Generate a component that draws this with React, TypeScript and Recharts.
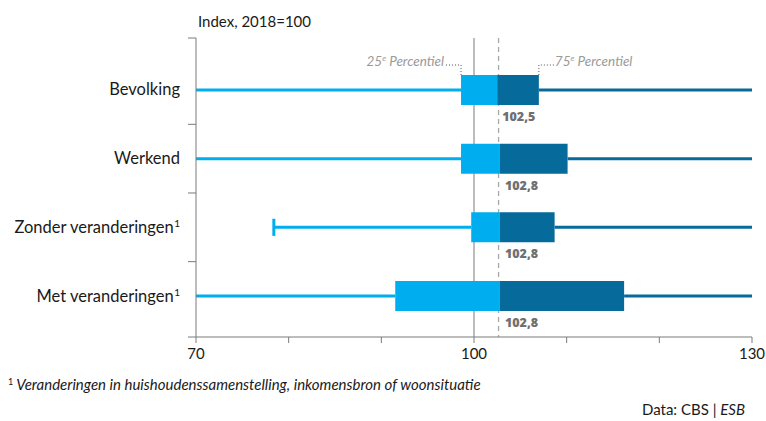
import React from 'react';
import {
  ComposedChart,
  XAxis,
  YAxis,
  ReferenceLine,
  ReferenceArea,
  Scatter,
  CartesianGrid,
} from 'recharts';

const categories = ['Bevolking', 'Werkend', 'Zonder veranderingen¹', 'Met veranderingen¹'];
const whiskerLow = [62, 62, 78.4, 62];
const q1 = [98.6, 98.6, 99.7, 91.5];
const median = [102.5, 102.8, 102.8, 102.8];
const q3 = [107.0, 110.1, 108.7, 116.2];
const whiskerHigh = [138, 138, 138, 138];
const hasCap = [false, false, true, false];
const medianLabels = ['102,5', '102,8', '102,8', '102,8'];
const xTicks = [70, 80, 90, 100, 110, 120, 130];
const xLabelTicks = [70, 100, 130];
const indexBase = 100;
const overallMedian = 102.65;

const LIGHT = '#00AEEF';
const DARK = '#066A9B';
const AXIS = '#7a7a7a';
const FONT = 'Lato, "Open Sans", sans-serif';

const Y_MIN = -0.757;
const Y_MAX = 3.597;
const BOX_HALF = 0.218;
const yTicks = [Y_MIN, 0, 0.5, 1, 1.5, 2, 2.5, 3, Y_MAX];

const medianPoints = categories.map((c, i) => ({ x: median[i], y: i, label: medianLabels[i] }));
const annotationPoints = [
  { x: q1[0], y: 0, side: 'left', pct: '25' },
  { x: q3[0], y: 0, side: 'right', pct: '75' },
];

const YTick = (props: any) => {
  const { x, y, payload } = props;
  const v = payload.value;
  if (Number.isInteger(v)) {
    const label: string = categories[v];
    const sup = label.endsWith('¹');
    const main = sup ? label.slice(0, -1) : label;
    return (
      <text x={x - 16} y={y} dy={5.5} textAnchor="end" fontFamily={FONT} fontSize={16.5} fill="#1a1a1a">
        <tspan>{main}</tspan>
        {sup ? (
          <tspan fontSize={10} dy={-6} dx={0.5}>
            1
          </tspan>
        ) : null}
      </text>
    );
  }
  return <line x1={x - 8} x2={x} y1={y} y2={y} stroke={AXIS} strokeWidth={1} />;
};

const XTick = (props: any) => {
  const { x, y, payload } = props;
  if (!xLabelTicks.includes(payload.value)) return <g />;
  return (
    <text x={x} y={y} dy={14} textAnchor="middle" fontFamily={FONT} fontSize={15} fill="#1a1a1a">
      {payload.value}
    </text>
  );
};

const MedianLabel = (props: any) => {
  const { cx, cy, payload } = props;
  return (
    <text x={cx + 5} y={cy + 31} fontFamily='"Open Sans", sans-serif' fontWeight={800} fontSize={12.5} fill="#707070">
      {payload.label}
    </text>
  );
};

const Annotation = (props: any) => {
  const { cx, cy, payload } = props;
  const top = cy - 15;
  const lead = cy - 25;
  const left = payload.side === 'left';
  const endX = left ? cx - 16 : cx + 15;
  return (
    <g>
      <path
        d={`M${cx},${top} V${lead} H${endX}`}
        fill="none"
        stroke="#555"
        strokeWidth={1}
        strokeDasharray="1 2"
      />
      <text
        x={left ? endX - 1 : endX + 1}
        y={lead + 1}
        textAnchor={left ? 'end' : 'start'}
        fontFamily={FONT}
        fontStyle="italic"
        fontSize={13.5}
        fill="#9a9a9a"
      >
        <tspan>{payload.pct}</tspan>
        <tspan dy={-5} fontSize={8}>e</tspan>
        <tspan dy={5}> Percentiel</tspan>
      </text>
    </g>
  );
};

export default function App() {
  return (
    <div style={{ position: 'absolute', left: 0, top: 0, width: 766, height: 421, background: '#fff', fontFamily: FONT }}>
      <div style={{ position: 'absolute', left: 198, top: 12, fontSize: 15, lineHeight: '18px', color: '#1a1a1a' }}>
        Index, 2018=100
      </div>
      <ComposedChart
        width={766}
        height={421}
        margin={{ top: 38, right: 14, left: 0, bottom: 54 }}
      >
        <CartesianGrid horizontal={false} verticalValues={[indexBase]} stroke={AXIS} strokeWidth={1} />
        <CartesianGrid horizontal={false} verticalValues={[overallMedian]} stroke="#a8a8a8" strokeWidth={1.3} strokeDasharray="5 4" />
        <XAxis
          type="number"
          dataKey="x"
          domain={[70, 130]}
          ticks={xTicks}
          interval={0}
          allowDataOverflow
          tick={<XTick />}
          tickLine={{ stroke: AXIS }}
          tickSize={6}
          axisLine={{ stroke: AXIS }}
          height={30}
        />
        <XAxis
          xAxisId="top"
          orientation="top"
          type="number"
          domain={[70, 130]}
          tick={false}
          tickLine={false}
          axisLine={{ stroke: AXIS }}
          height={0}
        />
        <YAxis
          type="number"
          dataKey="y"
          domain={[Y_MIN, Y_MAX]}
          reversed
          ticks={yTicks}
          interval={0}
          allowDataOverflow
          tick={<YTick />}
          tickLine={false}
          tickSize={0}
          tickMargin={0}
          axisLine={{ stroke: AXIS }}
          width={196}
        />
        <YAxis
          yAxisId="right"
          orientation="right"
          type="number"
          domain={[Y_MIN, Y_MAX]}
          tick={false}
          tickLine={false}
          axisLine={{ stroke: AXIS }}
          width={0}
        />
        {categories.map((c, i) => (
          <ReferenceLine
            key={`wl${i}`}
            segment={[{ x: whiskerLow[i], y: i }, { x: q1[i], y: i }]}
            stroke={LIGHT}
            strokeWidth={3}
            ifOverflow="hidden"
          />
        ))}
        {categories.map((c, i) => (
          <ReferenceLine
            key={`wh${i}`}
            segment={[{ x: q3[i], y: i }, { x: whiskerHigh[i], y: i }]}
            stroke={DARK}
            strokeWidth={3}
            ifOverflow="hidden"
          />
        ))}
        {categories.map((c, i) =>
          hasCap[i] ? (
            <ReferenceLine
              key={`cap${i}`}
              segment={[{ x: whiskerLow[i], y: i - 0.125 }, { x: whiskerLow[i], y: i + 0.125 }]}
              stroke={LIGHT}
              strokeWidth={3}
            />
          ) : null
        )}
        {categories.map((c, i) => (
          <ReferenceArea
            key={`bl${i}`}
            x1={q1[i]}
            x2={median[i]}
            y1={i - BOX_HALF}
            y2={i + BOX_HALF}
            fill={LIGHT}
            fillOpacity={1}
            stroke="none"
          />
        ))}
        {categories.map((c, i) => (
          <ReferenceArea
            key={`bd${i}`}
            x1={median[i]}
            x2={q3[i]}
            y1={i - BOX_HALF}
            y2={i + BOX_HALF}
            fill={DARK}
            fillOpacity={1}
            stroke="none"
          />
        ))}
        <Scatter data={medianPoints} shape={<MedianLabel />} isAnimationActive={false} />
        <Scatter data={annotationPoints} shape={<Annotation />} isAnimationActive={false} />
      </ComposedChart>
      <div style={{ position: 'absolute', left: 8, top: 375, fontSize: 15, lineHeight: '18px', color: '#1a1a1a', fontStyle: 'italic', whiteSpace: 'nowrap' }}>
        <span style={{ fontStyle: 'normal', fontSize: 9, position: 'relative', top: -5 }}>1</span>{' '}
        Veranderingen in huishoudenssamenstelling, inkomensbron of woonsituatie
      </div>
      <div style={{ position: 'absolute', right: 21, top: 400, fontSize: 15, lineHeight: '18px', color: '#1a1a1a', whiteSpace: 'nowrap' }}>
        Data: CBS | <span style={{ fontStyle: 'italic' }}>ESB</span>
      </div>
    </div>
  );
}
